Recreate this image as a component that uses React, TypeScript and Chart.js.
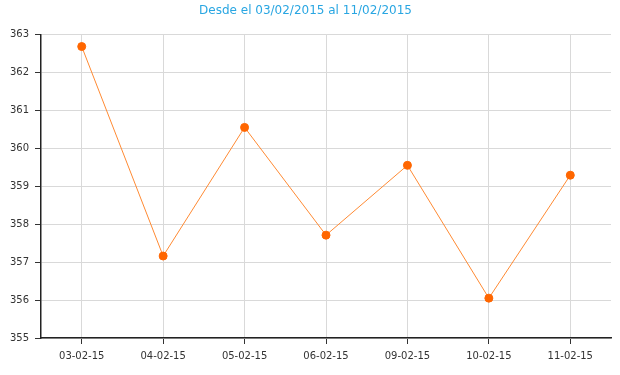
import React, { useEffect, useRef } from "react";
import { Chart, registerables } from "chart.js";

Chart.register(...registerables);

const categories = ["03-02-15", "04-02-15", "05-02-15", "06-02-15", "09-02-15", "10-02-15", "11-02-15"];
const values = [362.68, 357.16, 360.55, 357.71, 359.55, 356.05, 359.29];
const titleText = "Desde el 03/02/2015 al 11/02/2015";
const yMin = 355;
const yMax = 363;

export default function App() {
  const ref = useRef<HTMLCanvasElement>(null);
  useEffect(() => {
    document.body.style.margin = "0";
    const ctx = ref.current!;
    const chart = new Chart(ctx, {
      type: "line",
      data: {
        labels: categories,
        datasets: [
          {
            data: values,
            borderColor: "#ff8a33",
            borderWidth: 1,
            backgroundColor: "#ff6600",
            pointBackgroundColor: "#ff6600",
            pointBorderColor: "#ff6600",
            pointRadius: 4,
            tension: 0,
          },
        ],
      },
      options: {
        responsive: false,
        animation: false,
        layout: { padding: { left: 0, right: 9, top: 0, bottom: 0 } },
        plugins: {
          legend: { display: false },
          tooltip: { enabled: false },
          title: {
            display: true,
            text: titleText,
            color: "#29a6e2",
            font: { family: "'DejaVu Sans', sans-serif", size: 12, weight: "normal" },
            padding: { top: 4, bottom: 16 },
          },
        },
        scales: {
          x: {
            offset: true,
            grid: {
              offset: false,
              color: "#d9d9d9",
              tickColor: "#333333",
              tickLength: 6,
              drawOnChartArea: true,
            },
            border: { color: "#222222", width: 1.5 },
            ticks: {
              color: "#333333",
              font: { family: "'DejaVu Sans', sans-serif", size: 10 },
              padding: 6,
              maxRotation: 0,
            },
            afterFit: (s: any) => {
              s.height = 37;
            },
          },
          y: {
            min: yMin,
            max: yMax,
            grid: { color: "#d9d9d9", tickColor: "#333333", tickLength: 6 },
            border: { color: "#222222", width: 1.5 },
            ticks: {
              stepSize: 1,
              color: "#333333",
              font: { family: "'DejaVu Sans', sans-serif", size: 10 },
              padding: 6,
            },
            afterFit: (s: any) => {
              s.width = 41;
            },
          },
        },
      },
    });
    return () => chart.destroy();
  }, []);
  return <canvas ref={ref} width={620} height={375} style={{ display: "block" }} />;
}
